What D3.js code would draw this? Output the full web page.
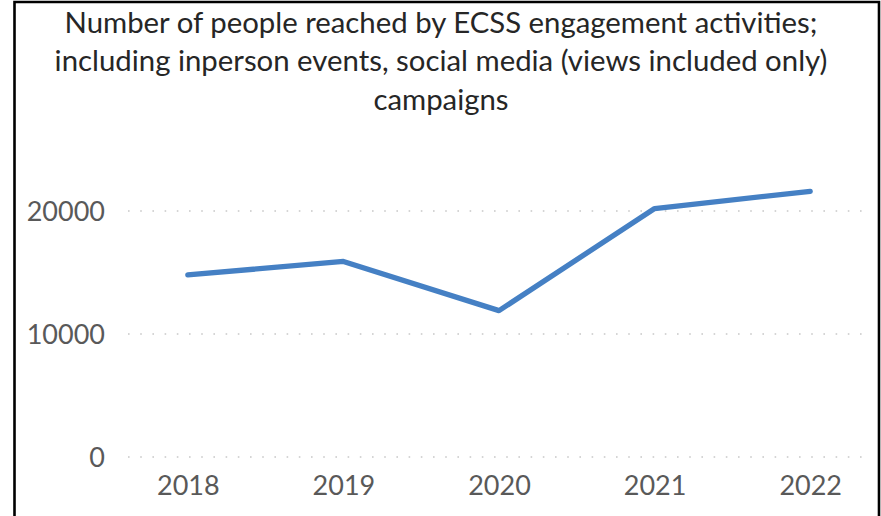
<!DOCTYPE html>
<html>
<head>
<meta charset="utf-8">
<script src="https://cdn.jsdelivr.net/npm/d3@7"></script>
<style>
  html, body { margin: 0; padding: 0; background: #fff; }
  svg { display: block; }
</style>
</head>
<body>
<svg id="chart" width="881" height="516"></svg>
<script>
const years = ["2018", "2019", "2020", "2021", "2022"];
const reached = [14800, 15900, 11900, 20200, 21600];
const yTicks = [0, 10000, 20000];
const titleLines = [
  "Number of people reached by ECSS engagement activities;",
  "including inperson events, social media (views included only)",
  "campaigns"
];

(function () {
const W = 881, H = 516;
const svg = d3.select("#chart");
const FONT = "Lato, 'Open Sans', sans-serif";

svg.append("rect").attr("width", W).attr("height", H).attr("fill", "#fff");

// plot area
const pLeft = 110, pRight = 888, pBottom = 457;
const x = d3.scalePoint().domain(years).range([pLeft, pRight]).padding(0.5);
const y = d3.scaleLinear().domain([0, 25000]).range([pBottom, pBottom - 2.5 * 123]);

// gridlines
const grid = svg.append("g");
grid.selectAll("line").data(yTicks).join("line")
  .attr("x1", 128).attr("x2", 864)
  .attr("y1", d => y(d)).attr("y2", d => y(d))
  .attr("stroke", "#c8c8c8").attr("stroke-width", 1.6)
  .attr("stroke-dasharray", "1.6,10.6").attr("stroke-linecap", "butt");

// y axis labels
const yAxis = d3.axisLeft(y).tickValues(yTicks).tickSize(0).tickPadding(0).tickFormat(d3.format("d"));
const ya = svg.append("g").attr("transform", "translate(105,0)").call(yAxis);
ya.select(".domain").remove();
ya.selectAll("text").attr("font-family", FONT).attr("font-size", 27).attr("fill", "#595959")
  .attr("dy", "0.36em");

// x axis labels
const xAxis = d3.axisBottom(x).tickSize(0).tickPadding(0);
const xa = svg.append("g").attr("transform", `translate(0,${pBottom})`).call(xAxis);
xa.select(".domain").remove();
xa.selectAll("text").attr("font-family", FONT).attr("font-size", 27).attr("fill", "#595959")
  .attr("dy", "1.4em");

// line
const line = d3.line().x((d, i) => x(years[i])).y(d => y(d));
svg.append("path").datum(reached)
  .attr("d", line)
  .attr("fill", "none")
  .attr("stroke", "#4580c4")
  .attr("stroke-width", 5.3)
  .attr("stroke-linejoin", "round")
  .attr("stroke-linecap", "round");

// title
const tg = svg.append("g");
const tBase = [33, 71, 110];
tg.selectAll("text").data(titleLines).join("text")
  .attr("x", 441).attr("y", (d, i) => tBase[i])
  .attr("text-anchor", "middle")
  .attr("font-family", FONT).attr("font-size", 26)
  .attr("fill", "#262626")
  .text(d => d);
const t2 = tg.selectAll("text").nodes()[1];
const w2 = t2.getComputedTextLength();
const fs = 26 * 773 / w2;
tg.selectAll("text").attr("font-size", fs);

// border
svg.append("path")
  .attr("d", `M14.5,${H + 5} L14.5,2 L879,2 L879,${H + 5}`)
  .attr("fill", "none").attr("stroke", "#000").attr("stroke-width", 2.6);
})();
</script>
</body>
</html>
